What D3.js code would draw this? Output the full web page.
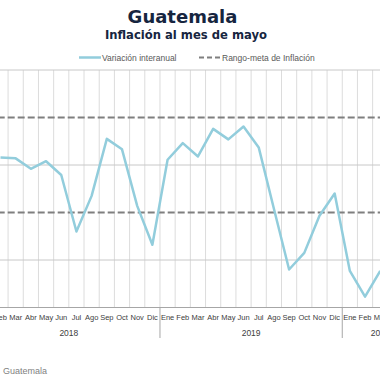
<!DOCTYPE html>
<html>
<head>
<meta charset="utf-8">
<script src="https://cdn.jsdelivr.net/npm/d3@7"></script>
<style>
  html, body { margin: 0; padding: 0; background: #fff; overflow: hidden; }
  svg { display: block; }
</style>
</head>
<body>
<div id="chart"></div>
<script>
// datos: inflación interanual de Guatemala (%), ene-2018 a may-2020
var years = [2018, 2019, 2020];
var monthsPerYear = [12, 12, 5];
var monthNames = ["Ene", "Feb", "Mar", "Abr", "May", "Jun", "Jul", "Ago", "Sep", "Oct", "Nov", "Dic"];
// null = fuera del recorte de la imagen
var inflacion = [
    null, 4.16, 4.14, 3.92, 4.08, 3.79, 2.60, 3.35, 4.55, 4.33, 3.14, 2.32,
    4.11, 4.46, 4.18, 4.76, 4.54, 4.81, 4.37, 3.08, 1.80, 2.15, 2.93, 3.40,
    1.77, 1.23, 1.77, null, null
];
var metaRango = [3, 5];
var yTicks = [1, 2, 4, 6];

var width = 380;
var height = 380;

// lista de categorias (mes, año)
var periodos = [];
years.forEach(function (y, i) {
    for (var m = 0; m < monthsPerYear[i]; m++) {
        periodos.push({ key: y + "-" + m, year: y, month: monthNames[m] });
    }
});

var svg = d3.select("#chart")
    .append("svg")
    .attr("width", width)
    .attr("height", height);

// el grafico original esta recortado a izquierda y derecha
var xScale = d3.scaleBand()
    .domain(periodos.map(function (d) { return d.key; }))
    .range([-22.3, -22.3 + periodos.length * 15.19])
    .padding(0);
var yScale = d3.scaleLinear()
    .domain([1, 6])
    .range([307.5, 70]);

var x0 = xScale.range()[0], x1 = xScale.range()[1];

// titulos
svg.append("text")
    .attr("x", 182.5).attr("y", 22.5)
    .attr("text-anchor", "middle")
    .style("font-family", "DejaVu Sans")
    .style("font-weight", "bold")
    .style("font-size", "18px")
    .attr("fill", "#16253f")
    .text("Guatemala");
svg.append("text")
    .attr("x", 186).attr("y", 39)
    .attr("text-anchor", "middle")
    .style("font-family", "DejaVu Sans")
    .style("font-weight", "bold")
    .style("font-size", "11.6px")
    .attr("fill", "#16253f")
    .text("Inflación al mes de mayo");

// leyenda
var leg = svg.append("g");
leg.append("line")
    .attr("x1", 79).attr("x2", 101).attr("y1", 57.5).attr("y2", 57.5)
    .attr("stroke", "#92cddc").attr("stroke-width", 2.5);
leg.append("text")
    .attr("x", 102).attr("y", 60.5)
    .style("font-family", "Liberation Sans").style("font-size", "8.5px")
    .attr("fill", "#595959")
    .text("Variación interanual");
leg.append("line")
    .attr("x1", 199).attr("x2", 221).attr("y1", 57.5).attr("y2", 57.5)
    .attr("stroke", "#7f7f7f").attr("stroke-width", 2)
    .attr("stroke-dasharray", "5,3");
leg.append("text")
    .attr("x", 222).attr("y", 60.5)
    .style("font-family", "Liberation Sans").style("font-size", "8.5px")
    .attr("fill", "#595959")
    .text("Rango-meta de Inflación");

// rejilla vertical (limites de mes)
svg.append("g")
    .selectAll("line")
    .data(periodos)
    .enter().append("line")
    .attr("x1", function (d) { return xScale(d.key); })
    .attr("x2", function (d) { return xScale(d.key); })
    .attr("y1", yScale(6))
    .attr("y2", yScale(1))
    .attr("stroke", "#dcdcdc")
    .attr("stroke-width", 1);

// rejilla horizontal
svg.append("g")
    .selectAll("line")
    .data(yTicks)
    .enter().append("line")
    .attr("x1", x0).attr("x2", x1)
    .attr("y1", function (d) { return yScale(d); })
    .attr("y2", function (d) { return yScale(d); })
    .attr("stroke", function (d) { return d === 1 ? "#a6a6a6" : "#c8c8c8"; })
    .attr("stroke-width", 1);

// separadores de año
var inicioAnio = periodos.filter(function (d) { return d.month === "Ene"; });
svg.append("g")
    .selectAll("line")
    .data(inicioAnio)
    .enter().append("line")
    .attr("x1", function (d) { return xScale(d.key); })
    .attr("x2", function (d) { return xScale(d.key); })
    .attr("y1", yScale(1))
    .attr("y2", 338)
    .attr("stroke", "#a6a6a6")
    .attr("stroke-width", 1);

// rango-meta
svg.append("g")
    .selectAll("line")
    .data(metaRango)
    .enter().append("line")
    .attr("x1", x0).attr("x2", x1)
    .attr("y1", function (d) { return yScale(d); })
    .attr("y2", function (d) { return yScale(d); })
    .attr("stroke", "#7f7f7f")
    .attr("stroke-width", 2)
    .attr("stroke-dasharray", "7,3");

// serie
var line = d3.line()
    .defined(function (d) { return d != null; })
    .x(function (d, i) { return xScale(periodos[i].key) + xScale.bandwidth() / 2; })
    .y(function (d) { return yScale(d); });
svg.append("path")
    .datum(inflacion)
    .attr("d", line)
    .attr("fill", "none")
    .attr("stroke", "#92cddc")
    .attr("stroke-width", 2.5)
    .attr("stroke-linejoin", "round");

// etiquetas de mes
var gx = svg.append("g")
    .attr("transform", "translate(0," + yScale(1) + ")")
    .call(d3.axisBottom(xScale)
        .tickSize(0)
        .tickPadding(7)
        .tickFormat(function (k, i) { return periodos[i].month; }));
gx.select(".domain").remove();
gx.selectAll("text")
    .style("font-family", "Liberation Sans")
    .style("font-size", "7.5px")
    .attr("fill", "#404040");

// etiquetas de año
var pos = 0;
years.forEach(function (y, i) {
    var a = xScale(periodos[pos].key);
    var b = xScale(periodos[pos + monthsPerYear[i] - 1].key) + xScale.bandwidth();
    svg.append("text")
        .attr("x", (a + b) / 2).attr("y", 335.5)
        .attr("text-anchor", "middle")
        .style("font-family", "Liberation Sans").style("font-size", "8.5px")
        .attr("fill", "#404040")
        .text(y);
    pos += monthsPerYear[i];
});

// nota
svg.append("text")
    .attr("x", 3).attr("y", 374)
    .style("font-family", "Liberation Sans").style("font-size", "9px")
    .attr("fill", "#7f7f7f")
    .text("Guatemala");
</script>
</body>
</html>
